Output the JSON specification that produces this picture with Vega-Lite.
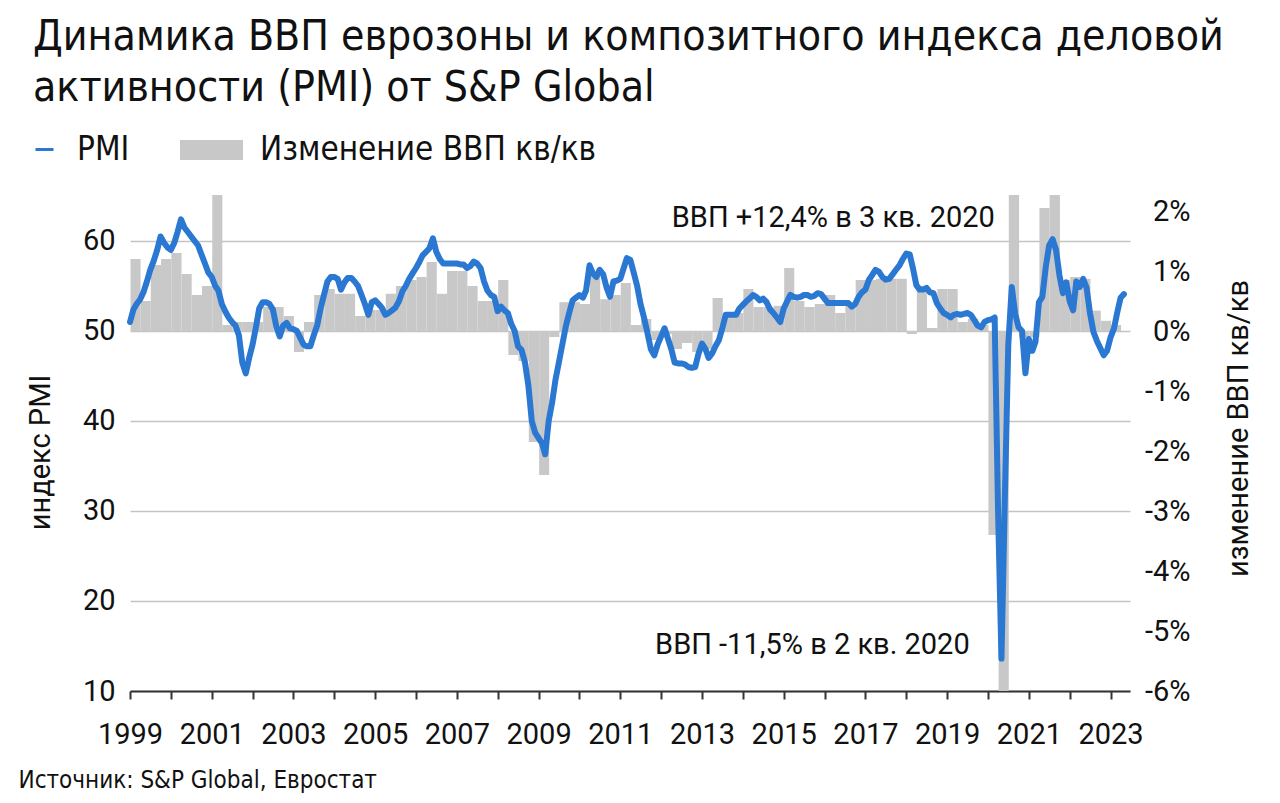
{
  "$schema": "https://vega.github.io/schema/vega-lite/v6.json",
  "width": 1000,
  "height": 496,
  "autosize": {"type": "none"},
  "padding": {"left": 130, "top": 195, "right": 150, "bottom": 112},
  "background": "white",
  "config": {"view": {"stroke": null}, "font": "Roboto"},
  "title": {
    "text": ["Динамика ВВП еврозоны и композитного индекса деловой", "активности (PMI) от S&P Global"],
    "anchor": "start",
    "frame": "group",
    "dx": -97,
    "offset": 8,
    "font": "DejaVu Sans Condensed, Roboto",
    "fontSize": 42.4,
    "fontWeight": "normal",
    "lineHeight": 51,
    "color": "#111111"
  },
  "datasets": {
    "pmi": [
      {"d":"1999-01-01","v":51.0},{"d":"1999-02-01","v":52.4},{"d":"1999-03-01","v":53.0},{"d":"1999-04-01","v":53.5},{"d":"1999-05-01","v":54.3},{"d":"1999-06-01","v":55.5},{"d":"1999-07-01","v":56.8},{"d":"1999-08-01","v":57.8},{"d":"1999-09-01","v":59.0},{"d":"1999-10-01","v":60.5},{"d":"1999-11-01","v":59.8},{"d":"1999-12-01","v":59.3},
      {"d":"2000-01-01","v":59.0},{"d":"2000-02-01","v":59.8},{"d":"2000-03-01","v":61.0},{"d":"2000-04-01","v":62.4},{"d":"2000-05-01","v":61.5},{"d":"2000-06-01","v":61.0},{"d":"2000-07-01","v":60.5},{"d":"2000-08-01","v":60.0},{"d":"2000-09-01","v":59.5},{"d":"2000-10-01","v":58.5},{"d":"2000-11-01","v":57.5},{"d":"2000-12-01","v":56.5},
      {"d":"2001-01-01","v":56.0},{"d":"2001-02-01","v":55.0},{"d":"2001-03-01","v":54.5},{"d":"2001-04-01","v":53.0},{"d":"2001-05-01","v":52.2},{"d":"2001-06-01","v":51.5},{"d":"2001-07-01","v":51.0},{"d":"2001-08-01","v":50.6},{"d":"2001-09-01","v":49.5},{"d":"2001-10-01","v":46.5},{"d":"2001-11-01","v":45.3},{"d":"2001-12-01","v":47.0},
      {"d":"2002-01-01","v":48.5},{"d":"2002-02-01","v":50.5},{"d":"2002-03-01","v":52.5},{"d":"2002-04-01","v":53.2},{"d":"2002-05-01","v":53.2},{"d":"2002-06-01","v":53.0},{"d":"2002-07-01","v":52.4},{"d":"2002-08-01","v":50.5},{"d":"2002-09-01","v":49.4},{"d":"2002-10-01","v":50.6},{"d":"2002-11-01","v":50.9},{"d":"2002-12-01","v":50.3},
      {"d":"2003-01-01","v":50.2},{"d":"2003-02-01","v":50.0},{"d":"2003-03-01","v":49.3},{"d":"2003-04-01","v":48.5},{"d":"2003-05-01","v":48.3},{"d":"2003-06-01","v":48.3},{"d":"2003-07-01","v":49.5},{"d":"2003-08-01","v":50.6},{"d":"2003-09-01","v":52.5},{"d":"2003-10-01","v":54.0},{"d":"2003-11-01","v":55.5},{"d":"2003-12-01","v":56.0},
      {"d":"2004-01-01","v":56.0},{"d":"2004-02-01","v":55.8},{"d":"2004-03-01","v":54.6},{"d":"2004-04-01","v":55.4},{"d":"2004-05-01","v":55.9},{"d":"2004-06-01","v":55.9},{"d":"2004-07-01","v":55.5},{"d":"2004-08-01","v":55.0},{"d":"2004-09-01","v":54.0},{"d":"2004-10-01","v":53.0},{"d":"2004-11-01","v":51.8},{"d":"2004-12-01","v":53.2},
      {"d":"2005-01-01","v":53.4},{"d":"2005-02-01","v":53.0},{"d":"2005-03-01","v":52.6},{"d":"2005-04-01","v":51.8},{"d":"2005-05-01","v":52.0},{"d":"2005-06-01","v":52.3},{"d":"2005-07-01","v":52.6},{"d":"2005-08-01","v":53.3},{"d":"2005-09-01","v":54.4},{"d":"2005-10-01","v":55.0},{"d":"2005-11-01","v":55.8},{"d":"2005-12-01","v":56.4},
      {"d":"2006-01-01","v":57.0},{"d":"2006-02-01","v":57.7},{"d":"2006-03-01","v":58.4},{"d":"2006-04-01","v":58.8},{"d":"2006-05-01","v":59.2},{"d":"2006-06-01","v":60.3},{"d":"2006-07-01","v":58.8},{"d":"2006-08-01","v":58.0},{"d":"2006-09-01","v":57.5},{"d":"2006-10-01","v":57.5},{"d":"2006-11-01","v":57.5},{"d":"2006-12-01","v":57.5},
      {"d":"2007-01-01","v":57.5},{"d":"2007-02-01","v":57.4},{"d":"2007-03-01","v":57.4},{"d":"2007-04-01","v":57.0},{"d":"2007-05-01","v":57.2},{"d":"2007-06-01","v":57.7},{"d":"2007-07-01","v":57.5},{"d":"2007-08-01","v":57.0},{"d":"2007-09-01","v":55.5},{"d":"2007-10-01","v":54.5},{"d":"2007-11-01","v":54.0},{"d":"2007-12-01","v":53.8},
      {"d":"2008-01-01","v":52.2},{"d":"2008-02-01","v":52.7},{"d":"2008-03-01","v":52.3},{"d":"2008-04-01","v":52.0},{"d":"2008-05-01","v":50.8},{"d":"2008-06-01","v":50.0},{"d":"2008-07-01","v":48.3},{"d":"2008-08-01","v":47.9},{"d":"2008-09-01","v":46.5},{"d":"2008-10-01","v":44.0},{"d":"2008-11-01","v":40.0},{"d":"2008-12-01","v":38.7},
      {"d":"2009-01-01","v":38.1},{"d":"2009-02-01","v":37.5},{"d":"2009-03-01","v":36.3},{"d":"2009-04-01","v":40.0},{"d":"2009-05-01","v":42.0},{"d":"2009-06-01","v":44.6},{"d":"2009-07-01","v":46.5},{"d":"2009-08-01","v":48.5},{"d":"2009-09-01","v":50.5},{"d":"2009-10-01","v":52.0},{"d":"2009-11-01","v":53.4},{"d":"2009-12-01","v":53.7},
      {"d":"2010-01-01","v":54.0},{"d":"2010-02-01","v":53.7},{"d":"2010-03-01","v":54.5},{"d":"2010-04-01","v":57.3},{"d":"2010-05-01","v":56.4},{"d":"2010-06-01","v":56.0},{"d":"2010-07-01","v":56.8},{"d":"2010-08-01","v":56.3},{"d":"2010-09-01","v":54.8},{"d":"2010-10-01","v":53.8},{"d":"2010-11-01","v":55.5},{"d":"2010-12-01","v":55.6},
      {"d":"2011-01-01","v":55.8},{"d":"2011-02-01","v":57.0},{"d":"2011-03-01","v":58.1},{"d":"2011-04-01","v":57.9},{"d":"2011-05-01","v":56.5},{"d":"2011-06-01","v":55.0},{"d":"2011-07-01","v":53.0},{"d":"2011-08-01","v":51.5},{"d":"2011-09-01","v":49.8},{"d":"2011-10-01","v":48.0},{"d":"2011-11-01","v":47.3},{"d":"2011-12-01","v":48.5},
      {"d":"2012-01-01","v":49.4},{"d":"2012-02-01","v":50.3},{"d":"2012-03-01","v":49.2},{"d":"2012-04-01","v":48.0},{"d":"2012-05-01","v":46.5},{"d":"2012-06-01","v":46.4},{"d":"2012-07-01","v":46.4},{"d":"2012-08-01","v":46.3},{"d":"2012-09-01","v":46.0},{"d":"2012-10-01","v":45.9},{"d":"2012-11-01","v":46.0},{"d":"2012-12-01","v":47.5},
      {"d":"2013-01-01","v":48.6},{"d":"2013-02-01","v":48.0},{"d":"2013-03-01","v":47.0},{"d":"2013-04-01","v":47.5},{"d":"2013-05-01","v":48.3},{"d":"2013-06-01","v":49.0},{"d":"2013-07-01","v":50.3},{"d":"2013-08-01","v":51.8},{"d":"2013-09-01","v":51.8},{"d":"2013-10-01","v":51.8},{"d":"2013-11-01","v":51.8},{"d":"2013-12-01","v":52.5},
      {"d":"2014-01-01","v":52.9},{"d":"2014-02-01","v":53.3},{"d":"2014-03-01","v":53.6},{"d":"2014-04-01","v":54.0},{"d":"2014-05-01","v":53.8},{"d":"2014-06-01","v":53.4},{"d":"2014-07-01","v":53.6},{"d":"2014-08-01","v":53.2},{"d":"2014-09-01","v":52.4},{"d":"2014-10-01","v":52.0},{"d":"2014-11-01","v":51.5},{"d":"2014-12-01","v":51.0},
      {"d":"2015-01-01","v":52.5},{"d":"2015-02-01","v":53.3},{"d":"2015-03-01","v":54.0},{"d":"2015-04-01","v":53.8},{"d":"2015-05-01","v":53.7},{"d":"2015-06-01","v":53.8},{"d":"2015-07-01","v":54.0},{"d":"2015-08-01","v":54.0},{"d":"2015-09-01","v":53.8},{"d":"2015-10-01","v":53.9},{"d":"2015-11-01","v":54.2},{"d":"2015-12-01","v":54.1},
      {"d":"2016-01-01","v":53.6},{"d":"2016-02-01","v":53.1},{"d":"2016-03-01","v":53.1},{"d":"2016-04-01","v":53.1},{"d":"2016-05-01","v":53.1},{"d":"2016-06-01","v":53.1},{"d":"2016-07-01","v":53.1},{"d":"2016-08-01","v":53.1},{"d":"2016-09-01","v":52.7},{"d":"2016-10-01","v":53.0},{"d":"2016-11-01","v":53.8},{"d":"2016-12-01","v":54.3},
      {"d":"2017-01-01","v":54.6},{"d":"2017-02-01","v":55.7},{"d":"2017-03-01","v":56.2},{"d":"2017-04-01","v":56.8},{"d":"2017-05-01","v":56.6},{"d":"2017-06-01","v":56.0},{"d":"2017-07-01","v":55.7},{"d":"2017-08-01","v":55.8},{"d":"2017-09-01","v":56.3},{"d":"2017-10-01","v":56.8},{"d":"2017-11-01","v":57.3},{"d":"2017-12-01","v":58.0},
      {"d":"2018-01-01","v":58.6},{"d":"2018-02-01","v":58.5},{"d":"2018-03-01","v":57.0},{"d":"2018-04-01","v":55.1},{"d":"2018-05-01","v":54.6},{"d":"2018-06-01","v":54.6},{"d":"2018-07-01","v":54.8},{"d":"2018-08-01","v":54.3},{"d":"2018-09-01","v":54.2},{"d":"2018-10-01","v":53.1},{"d":"2018-11-01","v":52.5},{"d":"2018-12-01","v":52.0},
      {"d":"2019-01-01","v":51.8},{"d":"2019-02-01","v":51.5},{"d":"2019-03-01","v":51.8},{"d":"2019-04-01","v":51.9},{"d":"2019-05-01","v":51.8},{"d":"2019-06-01","v":51.9},{"d":"2019-07-01","v":52.0},{"d":"2019-08-01","v":51.8},{"d":"2019-09-01","v":51.2},{"d":"2019-10-01","v":50.6},{"d":"2019-11-01","v":50.4},{"d":"2019-12-01","v":51.0},
      {"d":"2020-01-01","v":51.2},{"d":"2020-02-01","v":51.3},{"d":"2020-03-01","v":51.5},{"d":"2020-04-01","v":29.7},{"d":"2020-05-01","v":13.6},{"d":"2020-06-01","v":31.9},{"d":"2020-07-01","v":48.5},{"d":"2020-08-01","v":54.9},{"d":"2020-09-01","v":51.9},{"d":"2020-10-01","v":50.4},{"d":"2020-11-01","v":50.0},{"d":"2020-12-01","v":45.3},
      {"d":"2021-01-01","v":49.1},{"d":"2021-02-01","v":47.8},{"d":"2021-03-01","v":48.8},{"d":"2021-04-01","v":53.2},{"d":"2021-05-01","v":53.8},{"d":"2021-06-01","v":57.1},{"d":"2021-07-01","v":59.5},{"d":"2021-08-01","v":60.2},{"d":"2021-09-01","v":59.0},{"d":"2021-10-01","v":56.2},{"d":"2021-11-01","v":54.2},{"d":"2021-12-01","v":55.4},
      {"d":"2022-01-01","v":53.3},{"d":"2022-02-01","v":52.3},{"d":"2022-03-01","v":55.5},{"d":"2022-04-01","v":54.9},{"d":"2022-05-01","v":55.8},{"d":"2022-06-01","v":54.8},{"d":"2022-07-01","v":52.0},{"d":"2022-08-01","v":49.9},{"d":"2022-09-01","v":48.9},{"d":"2022-10-01","v":48.1},{"d":"2022-11-01","v":47.3},{"d":"2022-12-01","v":47.8},
      {"d":"2023-01-01","v":49.3},{"d":"2023-02-01","v":50.3},{"d":"2023-03-01","v":52.0},{"d":"2023-04-01","v":53.7},{"d":"2023-05-01","v":54.1}
    ],
    "gdp": [
      {"q":"1999-01-01","g":1.2},{"q":"1999-04-01","g":0.5},{"q":"1999-07-01","g":1.1},{"q":"1999-10-01","g":1.2},
      {"q":"2000-01-01","g":1.3},{"q":"2000-04-01","g":0.95},{"q":"2000-07-01","g":0.6},{"q":"2000-10-01","g":0.75},
      {"q":"2001-01-01","g":2.6},{"q":"2001-04-01","g":0.1},{"q":"2001-07-01","g":0.15},{"q":"2001-10-01","g":0.15},
      {"q":"2002-01-01","g":0.15},{"q":"2002-04-01","g":0.4},{"q":"2002-07-01","g":0.4},{"q":"2002-10-01","g":0.25},
      {"q":"2003-01-01","g":-0.35},{"q":"2003-04-01","g":0.15},{"q":"2003-07-01","g":0.6},{"q":"2003-10-01","g":0.7},
      {"q":"2004-01-01","g":0.62},{"q":"2004-04-01","g":0.62},{"q":"2004-07-01","g":0.25},{"q":"2004-10-01","g":0.35},
      {"q":"2005-01-01","g":0.35},{"q":"2005-04-01","g":0.62},{"q":"2005-07-01","g":0.75},{"q":"2005-10-01","g":0.85},
      {"q":"2006-01-01","g":0.9},{"q":"2006-04-01","g":1.15},{"q":"2006-07-01","g":0.62},{"q":"2006-10-01","g":1.0},
      {"q":"2007-01-01","g":1.0},{"q":"2007-04-01","g":0.75},{"q":"2007-07-01","g":0.5},{"q":"2007-10-01","g":0.5},
      {"q":"2008-01-01","g":0.85},{"q":"2008-04-01","g":-0.4},{"q":"2008-07-01","g":-0.5},{"q":"2008-10-01","g":-1.85},
      {"q":"2009-01-01","g":-2.4},{"q":"2009-04-01","g":-0.1},{"q":"2009-07-01","g":0.48},{"q":"2009-10-01","g":0.48},
      {"q":"2010-01-01","g":0.45},{"q":"2010-04-01","g":0.92},{"q":"2010-07-01","g":0.53},{"q":"2010-10-01","g":0.6},
      {"q":"2011-01-01","g":0.8},{"q":"2011-04-01","g":0.1},{"q":"2011-07-01","g":0.2},{"q":"2011-10-01","g":-0.15},
      {"q":"2012-01-01","g":-0.05},{"q":"2012-04-01","g":-0.3},{"q":"2012-07-01","g":-0.2},{"q":"2012-10-01","g":-0.35},
      {"q":"2013-01-01","g":-0.3},{"q":"2013-04-01","g":0.55},{"q":"2013-07-01","g":0.3},{"q":"2013-10-01","g":0.3},
      {"q":"2014-01-01","g":0.7},{"q":"2014-04-01","g":0.4},{"q":"2014-07-01","g":0.4},{"q":"2014-10-01","g":0.42},
      {"q":"2015-01-01","g":1.05},{"q":"2015-04-01","g":0.5},{"q":"2015-07-01","g":0.4},{"q":"2015-10-01","g":0.45},
      {"q":"2016-01-01","g":0.6},{"q":"2016-04-01","g":0.3},{"q":"2016-07-01","g":0.45},{"q":"2016-10-01","g":0.85},
      {"q":"2017-01-01","g":0.85},{"q":"2017-04-01","g":0.87},{"q":"2017-07-01","g":0.87},{"q":"2017-10-01","g":0.87},
      {"q":"2018-01-01","g":-0.05},{"q":"2018-04-01","g":0.75},{"q":"2018-07-01","g":0.05},{"q":"2018-10-01","g":0.7},
      {"q":"2019-01-01","g":0.7},{"q":"2019-04-01","g":0.15},{"q":"2019-07-01","g":0.2},{"q":"2019-10-01","g":0.1},
      {"q":"2020-01-01","g":-3.4},{"q":"2020-04-01","g":-11.5},{"q":"2020-07-01","g":12.4},{"q":"2020-10-01","g":-0.1},
      {"q":"2021-01-01","g":-0.1},{"q":"2021-04-01","g":2.05},{"q":"2021-07-01","g":2.35},{"q":"2021-10-01","g":0.85},
      {"q":"2022-01-01","g":0.9},{"q":"2022-04-01","g":0.87},{"q":"2022-07-01","g":0.34},{"q":"2022-10-01","g":0.17},
      {"q":"2023-01-01","g":0.1}
    ],
    "notes": [
      {"d":"2020-03-03","v":62.6,"t":"ВВП +12,4% в 3 кв. 2020"},
      {"d":"2019-07-22","v":15.1,"t":"ВВП -11,5% в 2 кв. 2020"}
    ]
  },
  "layer": [
    {
      "data": {"name": "gdp"},
      "mark": {"type": "bar", "clip": true, "color": "#c8c8c8", "binSpacing": 0},
      "encoding": {
        "x": {
          "field": "q", "timeUnit": "yearquarter", "type": "temporal",
          "scale": {"domain": [{"year": 1999, "month": 1, "date": 1}, {"year": 2023, "month": 6, "date": 24}]},
          "axis": {
            "tickCount": {"interval": "year", "step": 1},
            "labelExpr": "year(datum.value) % 2 == 1 ? timeFormat(datum.value, '%Y') : ''",
            "labelFlush": false, "labelOverlap": false,
            "grid": false, "tickSize": 8, "tickWidth": 2, "tickColor": "#333333",
            "domainColor": "#333333", "domainWidth": 2,
            "labelFontSize": 29, "labelColor": "#111111", "labelPadding": 21,
            "title": "Источник: S&P Global, Евростат",
            "titleFont": "DejaVu Sans Condensed, Roboto",
            "titleFontSize": 24, "titleFontWeight": "normal", "titleColor": "#111111",
            "titleX": -112, "titleY": 89, "titleAlign": "left", "titleBaseline": "middle", "titleAnchor": "start"
          }
        },
        "y": {
          "field": "g", "type": "quantitative",
          "scale": {"domain": [-6, 2.2667], "nice": false, "zero": false},
          "axis": {
            "orient": "right", "values": [-6, -5, -4, -3, -2, -1, 0, 1, 2],
            "labelExpr": "datum.value + '%'",
            "grid": false, "domain": false, "ticks": false,
            "labelAlign": "right", "labelPadding": 60, "labelFontSize": 29, "labelColor": "#111111",
            "title": "изменение ВВП кв/кв", "titleFontSize": 29, "titleFontWeight": "normal", "titleColor": "#111111",
            "titleAngle": 270, "titleX": 108, "titleY": 233, "titleAlign": "center", "titleBaseline": "middle"
          }
        },
        "y2": {"datum": 0},
        "fill": {
          "datum": "Изменение ВВП кв/кв", "type": "nominal",
          "scale": {"range": ["#c8c8c8"]},
          "legend": {
            "orient": "none", "legendX": 50, "legendY": -76.5, "title": null,
            "symbolType": "M-1,-0.32L1,-0.32L1,0.32L-1,0.32Z", "symbolSize": 3969, "symbolStrokeWidth": 0,
            "labelFont": "DejaVu Sans Condensed, Roboto", "labelFontSize": 33, "labelColor": "#111111", "labelOffset": 17, "labelLimit": 600
          }
        }
      }
    },
    {
      "layer": [
        {
          "data": {"name": "pmi"},
          "mark": {"type": "line", "strokeWidth": 6, "strokeJoin": "round", "strokeCap": "round"},
          "encoding": {
            "x": {"field": "d", "type": "temporal", "scale": {"domain": [{"year": 1999, "month": 1, "date": 1}, {"year": 2023, "month": 6, "date": 24}]}},
            "y": {
              "field": "v", "type": "quantitative",
              "scale": {"domain": [10, 65.111], "nice": false, "zero": false},
              "axis": {
                "orient": "left", "values": [10, 20, 30, 40, 50, 60],
                "grid": true, "gridColor": "#c4c4c4", "gridWidth": 1.5,
                "domain": false, "ticks": false, "labelPadding": 15, "labelFontSize": 29, "labelColor": "#111111",
                "title": "индекс PMI", "titleFontSize": 29, "titleFontWeight": "normal", "titleColor": "#111111",
                "titleX": -90, "titleY": 257, "titleAlign": "center", "titleBaseline": "middle"
              }
            },
            "stroke": {
              "datum": "PMI", "type": "nominal",
              "scale": {"range": ["#2a78d2"]},
              "legend": {
                "orient": "none", "legendX": -102, "legendY": -62, "title": null,
                "symbolType": "stroke", "symbolSize": 324, "symbolStrokeWidth": 3,
                "labelFont": "DejaVu Sans Condensed, Roboto", "labelFontSize": 33, "labelColor": "#111111", "labelOffset": 16, "labelLimit": 300
              }
            }
          }
        },
        {
          "data": {"name": "notes"},
          "mark": {"type": "text", "align": "right", "baseline": "middle", "fontSize": 29, "color": "#111111"},
          "encoding": {
            "x": {"field": "d", "type": "temporal", "scale": {"domain": [{"year": 1999, "month": 1, "date": 1}, {"year": 2023, "month": 6, "date": 24}]}},
            "y": {"field": "v", "type": "quantitative"},
            "text": {"field": "t"}
          }
        }
      ]
    }
  ],
  "resolve": {"scale": {"y": "independent"}}
}
